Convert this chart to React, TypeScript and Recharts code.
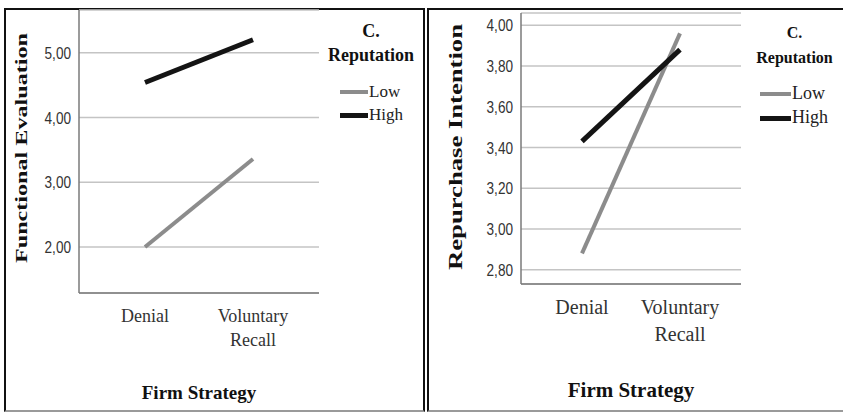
import React from 'react';
import { LineChart, Line, XAxis, YAxis, CartesianGrid, Label } from 'recharts';

const categories = ['Denial', 'Voluntary Recall'];
const funcLow = [2.0, 3.36];
const funcHigh = [4.54, 5.2];
const repLow = [2.88, 3.96];
const repHigh = [3.43, 3.88];
const funcTicks = [2, 3, 4, 5];
const repTicks = [2.8, 3.0, 3.2, 3.4, 3.6, 3.8, 4.0];
const seriesNames = ['Low', 'High'];
const legendTitle = ['C.', 'Reputation'];
const xTitle = 'Firm Strategy';
const yTitles = ['Functional Evaluation', 'Repurchase Intention'];

const SERIF = '"Liberation Serif", "Times New Roman", serif';
const SANS = '"Liberation Sans", Arial, sans-serif';
const LOW_COLOR = '#8c8c8c';
const HIGH_COLOR = '#141414';
const X_AXIS_H = 30;

const buildData = (low: number[], high: number[]) =>
  categories.map((c, i) => ({ cat: c, Low: low[i], High: high[i] }));

type PanelCfg = {
  left: number;
  width: number;
  margin: { top: number; right: number; bottom: number; left: number };
  yWidth: number;
  domain: [number, number];
  ticks: number[];
  pad: number;
  yTitle: string;
  yTitleX: number;
  yTitleY: number;
  yTitleSize: number;
  yTitleLen: number;
  xTitleX: number;
  xTitleY: number;
  xTitleSize: number;
  catSize: number;
  catDy: number;
  catLine: number;
  legendLeft: number;
  legendW: number;
  legTitleSize: number;
  legC_Y: number;
  legRep_Y: number;
  legItemY: number[];
  legLineX: [number, number];
  legItemSize: number;
};

const XTick = (props: any) => {
  const { x, y, payload, size, dy, lh } = props;
  const words = String(payload.value).split(' ');
  return (
    <text x={x} y={y} textAnchor="middle" fontFamily={SERIF} fontSize={size} fill="#333">
      {words.map((w: string, i: number) => (
        <tspan key={i} x={x} dy={i === 0 ? dy : lh}>
          {w}
        </tspan>
      ))}
    </text>
  );
};

const YTick = (props: any) => {
  const { x, y, payload } = props;
  const label = Number(payload.value).toFixed(2).replace('.', ',');
  return (
    <g transform={`translate(${x},${y}) scale(0.8,1)`}>
      <text x={0} y={0} dy="0.36em" textAnchor="end" fontFamily={SANS} fontSize={17} fill="#333">
        {label}
      </text>
    </g>
  );
};

const LegendBox = ({ cfg }: { cfg: PanelCfg }) => (
  <div
    style={{
      position: 'absolute',
      left: cfg.left + cfg.legendLeft,
      top: 0,
      width: cfg.legendW,
      height: 140,
      fontFamily: SERIF,
    }}
  >
    {[cfg.legC_Y, cfg.legRep_Y].map((yy, k) => (
      <div
        key={k}
        style={{
          position: 'absolute',
          left: 0,
          width: cfg.legendW,
          top: yy - cfg.legTitleSize * 0.6,
          textAlign: 'center',
          fontWeight: 'bold',
          fontSize: cfg.legTitleSize,
          lineHeight: '1.2',
          color: '#111',
          whiteSpace: 'nowrap',
        }}
      >
        {legendTitle[k]}
      </div>
    ))}
    {seriesNames.map((n, i) => (
      <div key={n}>
        <div
          style={{
            position: 'absolute',
            left: cfg.legLineX[0],
            width: cfg.legLineX[1] - cfg.legLineX[0],
            top: cfg.legItemY[i] - (i === 0 ? 2 : 2.5),
            height: i === 0 ? 4 : 5,
            background: i === 0 ? LOW_COLOR : HIGH_COLOR,
          }}
        />
        <div
          style={{
            position: 'absolute',
            left: cfg.legLineX[1] + 1,
            top: cfg.legItemY[i] - cfg.legItemSize * 0.6,
            fontSize: cfg.legItemSize,
            lineHeight: '1.2',
            color: '#222',
          }}
        >
          {n}
        </div>
      </div>
    ))}
  </div>
);

const Panel = ({ cfg, low, high }: { cfg: PanelCfg; low: number[]; high: number[] }) => {
  const data = buildData(low, high);
  return (
    <div style={{ position: 'absolute', left: cfg.left, top: 0 }}>
      <LineChart width={cfg.width} height={412} data={data} margin={cfg.margin}>
        <CartesianGrid vertical={false} stroke="#c4c4c4" strokeWidth={1.5} />
        <XAxis
          dataKey="cat"
          height={X_AXIS_H}
          padding={{ left: cfg.pad, right: cfg.pad }}
          tickLine={false}
          stroke="#7a7a7a"
          strokeWidth={1.5}
          interval={0}
          tick={<XTick size={cfg.catSize} dy={cfg.catDy} lh={cfg.catLine} />}
        >
          <Label
            content={() => (
              <text
                x={cfg.xTitleX}
                y={cfg.xTitleY}
                textAnchor="middle"
                dominantBaseline="central"
                fontFamily={SERIF}
                fontWeight="bold"
                fontSize={cfg.xTitleSize}
                fill="#111"
              >
                {xTitle}
              </text>
            )}
          />
        </XAxis>
        <YAxis
          width={cfg.yWidth}
          type="number"
          domain={cfg.domain}
          ticks={cfg.ticks}
          interval={0}
          allowDataOverflow
          tickLine={false}
          stroke="#7a7a7a"
          strokeWidth={1.5}
          tick={<YTick />}
        >
          <Label
            content={() => (
              <text
                x={cfg.yTitleX}
                y={cfg.yTitleY}
                transform={`rotate(-90 ${cfg.yTitleX} ${cfg.yTitleY})`}
                textAnchor="middle"
                dominantBaseline="central"
                fontFamily={SERIF}
                fontWeight="bold"
                fontSize={cfg.yTitleSize}
                fill="#111"
                textLength={cfg.yTitleLen}
                lengthAdjust="spacingAndGlyphs"
              >
                {cfg.yTitle}
              </text>
            )}
          />
        </YAxis>
        <Line
          dataKey="Low"
          stroke={LOW_COLOR}
          strokeWidth={4}
          dot={false}
          activeDot={false}
          isAnimationActive={false}
          strokeLinecap="butt"
        />
        <Line
          dataKey="High"
          stroke={HIGH_COLOR}
          strokeWidth={5}
          dot={false}
          activeDot={false}
          isAnimationActive={false}
          strokeLinecap="butt"
        />
      </LineChart>
    </div>
  );
};

const leftCfg: PanelCfg = {
  left: 0,
  width: 420,
  margin: { top: 10, right: 101, bottom: 119 - X_AXIS_H, left: 0 },
  yWidth: 79,
  domain: [1.29, 5.66],
  ticks: funcTicks,
  pad: 66,
  yTitle: yTitles[0],
  yTitleX: 21,
  yTitleY: 148,
  yTitleSize: 17,
  yTitleLen: 230,
  xTitleX: 199,
  xTitleY: 392,
  xTitleSize: 19,
  catSize: 18,
  catDy: 21,
  catLine: 24,
  legendLeft: 322,
  legendW: 98,
  legTitleSize: 18,
  legC_Y: 32,
  legRep_Y: 56,
  legItemY: [92, 115],
  legLineX: [18, 46],
  legItemSize: 17,
};

const rightCfg: PanelCfg = {
  left: 428,
  width: 415,
  margin: { top: 13, right: 102, bottom: 128 - X_AXIS_H, left: 0 },
  yWidth: 93,
  domain: [2.73, 4.06],
  ticks: repTicks,
  pad: 61,
  yTitle: yTitles[1],
  yTitleX: 27,
  yTitleY: 147,
  yTitleSize: 19,
  yTitleLen: 246,
  xTitleX: 203,
  xTitleY: 390,
  xTitleSize: 21,
  catSize: 20,
  catDy: 22,
  catLine: 27,
  legendLeft: 320,
  legendW: 93,
  legTitleSize: 16,
  legC_Y: 33,
  legRep_Y: 58,
  legItemY: [94, 118],
  legLineX: [12, 43],
  legItemSize: 18,
};

export default function App() {
  return (
    <div style={{ position: 'absolute', left: 0, top: 0, width: 843, height: 412, background: '#fff', overflow: 'hidden' }}>
      <div
        style={{
          position: 'absolute',
          left: 4,
          top: 8,
          width: 417,
          height: 400,
          borderTop: '2px solid #111',
          borderLeft: '2px solid #111',
          borderRight: '2px solid #111',
          borderBottom: '2px solid #9a9a9a',
        }}
      />
      <div
        style={{
          position: 'absolute',
          left: 427,
          top: 8,
          width: 420,
          height: 400,
          borderTop: '2px solid #111',
          borderLeft: '2px solid #111',
          borderBottom: '2px solid #9a9a9a',
        }}
      />
      <Panel cfg={leftCfg} low={funcLow} high={funcHigh} />
      <Panel cfg={rightCfg} low={repLow} high={repHigh} />
      <LegendBox cfg={leftCfg} />
      <LegendBox cfg={rightCfg} />
    </div>
  );
}
